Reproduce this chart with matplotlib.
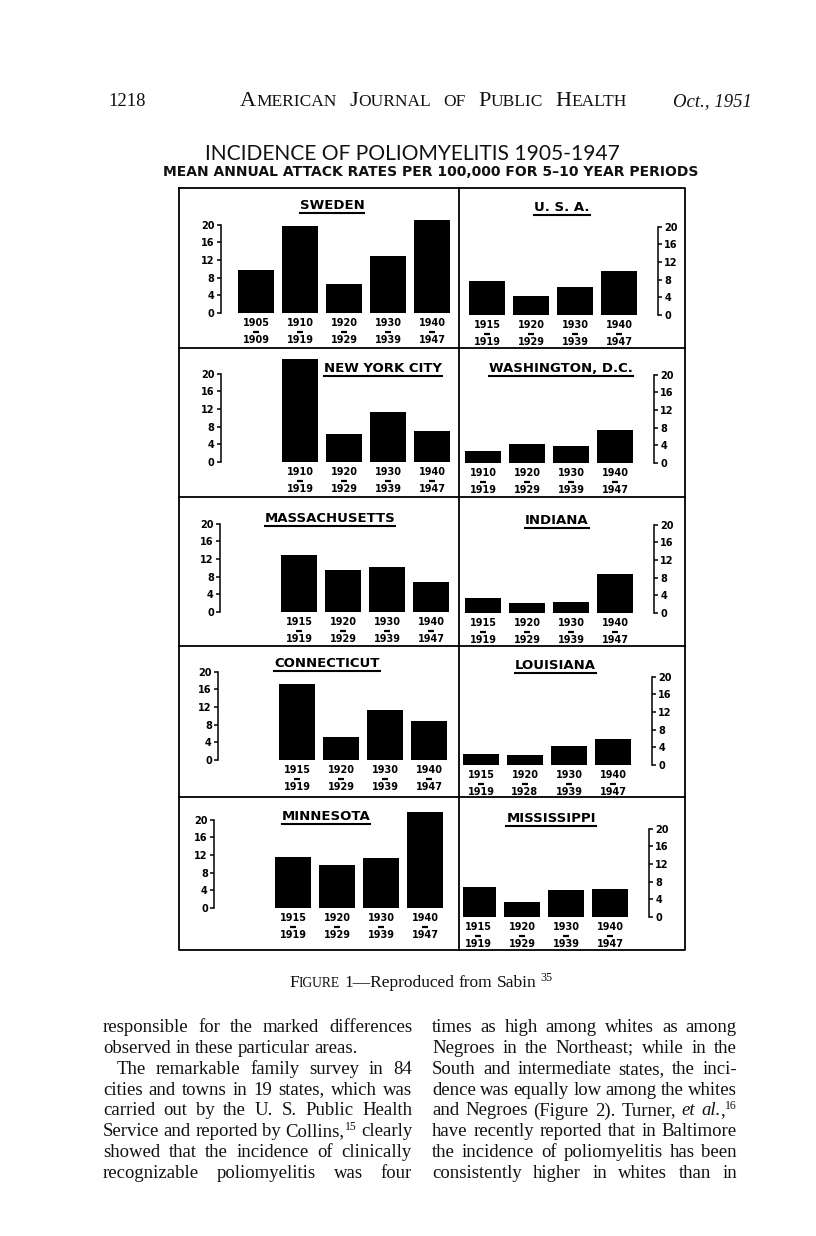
import re
import matplotlib
matplotlib.use("Agg")
import matplotlib.pyplot as plt

# mean annual attack rates per 100,000
sweden_start = [1905, 1910, 1920, 1930, 1940]
sweden_end = [1909, 1919, 1929, 1939, 1947]
decade_start = [1915, 1920, 1930, 1940]
decade_end = [1919, 1929, 1939, 1947]
nyc_start = [1910, 1920, 1930, 1940]
louisiana_end = [1919, 1928, 1939, 1947]

sweden = [9.7, 19.6, 6.6, 12.8, 21.1]
usa = [7.6, 4.4, 6.3, 9.9]
new_york = [23.4, 6.3, 11.2, 7.1]
washington = [2.8, 4.2, 3.8, 7.4]
massachusetts = [13.0, 9.6, 10.1, 6.8]
indiana = [3.3, 2.2, 2.5, 8.8]
connecticut = [17.2, 5.3, 11.2, 8.8]
louisiana = [2.5, 2.2, 4.2, 5.8]
minnesota = [11.5, 9.8, 11.4, 21.8]
mississippi = [6.9, 3.5, 6.0, 6.3]

W, H = 816, 1236
PX_UNIT = 4.42   # pixels per attack-rate unit
PX_SLOT = 44     # pixels between bar centres

fig = plt.figure(figsize=(W / 100, H / 100), dpi=100)
bg = fig.add_axes([0, 0, 1, 1])
bg.set_xlim(0, W)
bg.set_ylim(H, 0)
bg.axis("off")
renderer = fig.canvas.get_renderer()


def width_of(t):
    return t.get_window_extent(renderer).width


def draw_line(x0, y, words, width=None, size=12, family="Liberation Serif", center=None, sup=0.62):
    em = size * 100 / 72
    arts, widths = [], []
    for w in words:
        segs, wsum = [], 0
        for tok in re.findall(r"\*[^*]+\*|\^[^*^~]+|~[^*^~]+|[^*^~]+", w):
            kw = dict(family=family, fontsize=size, va="baseline", ha="left", color="#111")
            dy = 0
            if tok.startswith("*"):
                tok = tok.strip("*")
                kw["style"] = "italic"
            elif tok.startswith("^"):
                tok = tok[1:]
                kw["fontsize"] = size * sup
                dy = -0.36 * em
            elif tok.startswith("~"):
                tok = tok[1:]
                kw["fontsize"] = size * 0.78
            t = bg.text(0, y + dy, tok, **kw)
            tw = width_of(t)
            segs.append((t, tw))
            wsum += tw
        arts.append(segs)
        widths.append(wsum)
    space = 0.25 * em
    if width is not None and len(words) > 1:
        space = (width - sum(widths)) / (len(words) - 1)
    if center is not None:
        x0 = center - (sum(widths) + space * (len(words) - 1)) / 2
    x = x0
    for segs in arts:
        for t, tw in segs:
            t.set_x(x)
            x += tw
        x += space


def fit_text(x0, x1, y, s, **kw):
    t = bg.text(x0, y, s, ha="left", va="baseline", fontsize=10, color="#111", **kw)
    t.set_fontsize(10 * (x1 - x0) / width_of(t))
    return t


# running head
bg.text(108, 106, "1218", family="Liberation Serif", fontsize=13.5, va="baseline", color="#111")
draw_line(240, 106, ["A~MERICAN", "J~OURNAL", "~OF", "P~UBLIC", "H~EALTH"], width=387, size=16)
bg.text(752, 106, "Oct., 1951", family="Liberation Serif", style="italic", fontsize=13.5,
        ha="right", va="baseline", color="#111")

# figure titles
fit_text(205, 617, 160, "INCIDENCE OF POLIOMYELITIS 1905-1947", family="Lato")
fit_text(163, 697, 176, "MEAN ANNUAL ATTACK RATES PER 100,000 FOR 5\u201310 YEAR PERIODS",
         family="DejaVu Sans", weight="bold")

# frame of the 5 x 2 grid
L, R, M, T, B = 179, 685, 459, 188, 950
rows = [348, 497, 646, 797]
bg.plot([L, R, R, L, L], [T, T, B, B, T], color="k", lw=1.3)
bg.plot([M, M], [T, B], color="k", lw=1.3)
for ry in rows:
    bg.plot([L, R], [ry, ry], color="k", lw=1.3)

# name, starts, ends, values, side, spine x, zero y, cell top, title x, title y
panels = [
    ("SWEDEN", sweden_start, sweden_end, sweden, "L", 221, 313, 188, 332, 209),
    ("U. S. A.", decade_start, decade_end, usa, "R", 658, 315, 188, 562, 211),
    ("NEW YORK CITY", nyc_start, decade_end, new_york, "L", 221, 462, 348, 383, 372),
    ("WASHINGTON, D.C.", nyc_start, decade_end, washington, "R", 654, 463, 348, 561, 372),
    ("MASSACHUSETTS", decade_start, decade_end, massachusetts, "L", 220, 612, 497, 330, 522),
    ("INDIANA", decade_start, decade_end, indiana, "R", 654, 613, 497, 557, 524),
    ("CONNECTICUT", decade_start, decade_end, connecticut, "L", 218, 760, 646, 327, 667),
    ("LOUISIANA", decade_start, louisiana_end, louisiana, "R", 652, 765, 646, 555, 669),
    ("MINNESOTA", decade_start, decade_end, minnesota, "L", 214, 908, 797, 326, 820),
    ("MISSISSIPPI", decade_start, decade_end, mississippi, "R", 649, 917, 797, 551, 822),
]

for name, starts, ends, vals, side, sx, zy, top, tx, ty in panels:
    if side == "L":
        x0, x1, c0 = sx, 455, sx + 35
        slots = list(range(5 - len(vals), 5))
    else:
        x0, x1, c0 = 463, sx, sx - 171
        slots = list(range(len(vals)))
    top = top + 2
    ax = fig.add_axes([x0 / W, 1 - zy / H, (x1 - x0) / W, (zy - top) / H])
    ax.set_facecolor("none")
    ax.set_xlim((x0 - c0) / PX_SLOT, (x1 - c0) / PX_SLOT)
    ax.set_ylim(0, (zy - top) / PX_UNIT)
    ax.bar(slots, vals, width=0.82, color="black")
    for s in ["top", "bottom", "left", "right"]:
        ax.spines[s].set_visible(False)
    spine = "left" if side == "L" else "right"
    ax.spines[spine].set_visible(True)
    ax.spines[spine].set_bounds(0, 20)
    ax.spines[spine].set_linewidth(1.1)
    if side == "R":
        ax.yaxis.tick_right()
    ax.set_xticks([])
    ax.set_yticks([0, 4, 8, 12, 16, 20])
    ax.tick_params(axis="y", direction="out", length=3, width=1.1, labelsize=7, pad=1.5)
    for lab in ax.get_yticklabels():
        lab.set_fontweight("bold")
    for k, s, e in zip(slots, starts, ends):
        ax.text(k, -10 / PX_UNIT, str(s), ha="center", va="center", fontsize=7, weight="bold")
        ax.plot([k - 0.075, k + 0.075], [-18.5 / PX_UNIT] * 2, color="k", lw=1.6,
                solid_capstyle="butt", clip_on=False)
        ax.text(k, -27 / PX_UNIT, str(e), ha="center", va="center", fontsize=7, weight="bold")
    t = bg.text(tx, ty, name, ha="center", va="baseline", fontsize=9.5, weight="bold")
    w = width_of(t)
    bg.plot([tx - w / 2, tx + w / 2], [ty + 4, ty + 4], color="k", lw=1.5)

# caption
draw_line(0, 987, ["F~IGURE", "1\u2014Reproduced", "from", "Sabin", "^35"], size=12.5,
          center=421, sup=0.7)

# body text, two justified columns
left_col = [
    ("responsible for the marked differences", True, 0),
    ("observed in these particular areas.", False, 0),
    ("The remarkable family survey in 84", True, 14),
    ("cities and towns in 19 states, which was", True, 0),
    ("carried out by the U. S. Public Health", True, 0),
    ("Service and reported by Collins,^15 clearly", True, 0),
    ("showed that the incidence of clinically", True, 0),
    ("recognizable poliomyelitis was four", True, 0),
]
right_col = [
    ("times as high among whites as among", True, 0),
    ("Negroes in the Northeast; while in the", True, 0),
    ("South and intermediate states, the inci-", True, 0),
    ("dence was equally low among the whites", True, 0),
    ("and Negroes (Figure 2). Turner, *et* *al.*,^16", True, 0),
    ("have recently reported that in Baltimore", True, 0),
    ("the incidence of poliomyelitis has been", True, 0),
    ("consistently higher in whites than in", True, 0),
]
for col, (cx0, cx1) in [(left_col, (103, 412)), (right_col, (432, 737))]:
    for i, (line, just, indent) in enumerate(col):
        y = 1032 + 20.86 * i
        draw_line(cx0 + indent, y, line.split(" "),
                  width=(cx1 - cx0 - indent) if just else None, size=13.5)

fig.savefig("out.png", dpi=100, facecolor="white")
